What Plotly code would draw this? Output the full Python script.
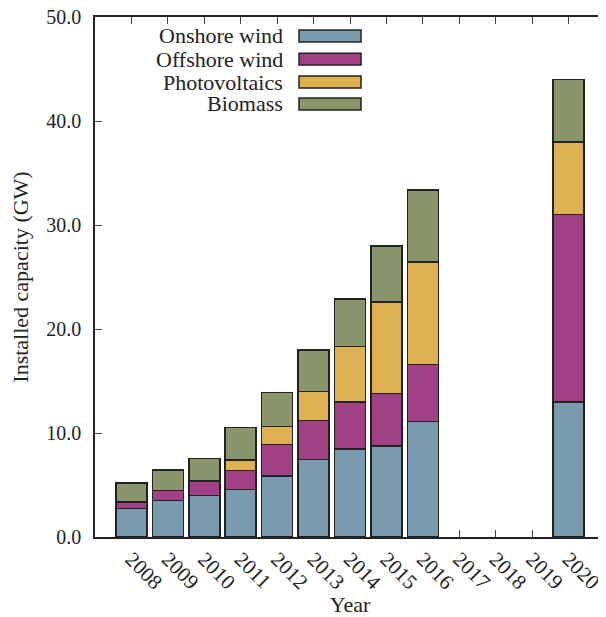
import plotly.graph_objects as go

years = ["2008", "2009", "2010", "2011", "2012", "2013", "2014", "2015", "2016",
         "2017", "2018", "2019", "2020"]
onshore = [2.76, 3.50, 3.97, 4.58, 5.87, 7.47, 8.46, 8.75, 11.09, None, None, None, 13.0]
offshore = [0.60, 0.95, 1.35, 1.80, 3.04, 3.75, 4.52, 5.07, 5.51, None, None, None, 18.0]
photovoltaics = [0.05, 0.03, 0.13, 1.02, 1.70, 2.79, 5.35, 8.78, 9.84, None, None, None, 7.0]
biomass = [1.76, 1.96, 2.08, 3.15, 3.27, 3.97, 4.57, 5.38, 6.93, None, None, None, 6.0]

series = [
    ("Onshore wind", onshore, "#7a9bae"),
    ("Offshore wind", offshore, "#a04185"),
    ("Photovoltaics", photovoltaics, "#deb152"),
    ("Biomass", biomass, "#8b956b"),
]

FONT = "Liberation Serif"
fig = go.Figure()
for name, vals, col in series:
    fig.add_trace(go.Bar(
        x=years, y=vals, name=name, marker_color=col,
        marker_line_color="#222222", marker_line_width=1.5,
        showlegend=False,
    ))

# custom legend (text to the left of swatch)
row_y = [0.9635, 0.919, 0.875, 0.8327]
for (name, vals, col), yy in zip(series, row_y):
    fig.add_annotation(x=0.3725, y=yy, xref="paper", yref="paper", text=name,
                       showarrow=False, xanchor="right", yanchor="middle",
                       font=dict(family=FONT, size=22, color="#222222"))
    fig.add_shape(type="rect", xref="paper", yref="paper",
                  x0=0.40, x1=0.5216, y0=yy - 0.0115, y1=yy + 0.0115,
                  fillcolor=col, line=dict(color="#222222", width=1.5))

fig.update_layout(
    width=598, height=609,
    margin=dict(l=87, r=1, t=9, b=80),
    plot_bgcolor="white", paper_bgcolor="white",
    barmode="stack", bargap=0.15,
    font=dict(family=FONT, size=20, color="#222222"),
)
fig.update_xaxes(
    type="category", range=[-1, 13], automargin=False,
    showline=True, linecolor="#222222", linewidth=1.5, mirror="ticks",
    ticks="inside", ticklen=7, tickwidth=1, tickcolor="#444444",
    tickangle=45, tickfont=dict(family=FONT, size=21),
    ticklabeloverflow="allow",
    showgrid=False, layer="below traces",
    title=dict(text="Year", font=dict(family=FONT, size=22), standoff=8),
)
fig.update_yaxes(
    range=[0, 50], tickvals=[0, 10, 20, 30, 40, 50], tickformat=".1f",
    automargin=False, ticklabeloverflow="allow",
    showline=True, linecolor="#222222", linewidth=1.5, mirror="ticks",
    ticks="inside", ticklen=7, tickwidth=1, tickcolor="#444444",
    ticklabelstandoff=8, tickfont=dict(family=FONT, size=20),
    showgrid=False, zeroline=False, layer="below traces",
    title=dict(text="Installed capacity (GW)", font=dict(family=FONT, size=22), standoff=14),
)

fig.write_html("out.html")
